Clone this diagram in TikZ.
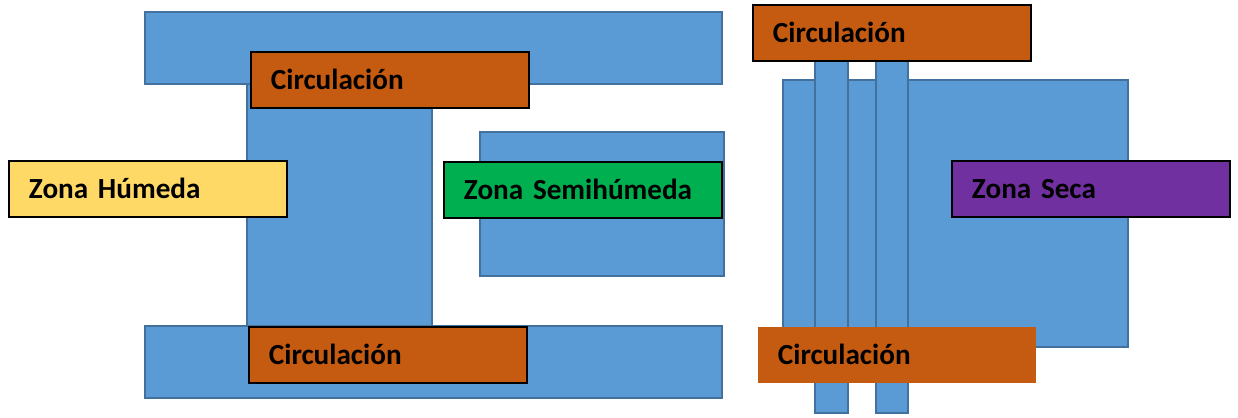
\documentclass[tikz,border=0pt]{standalone}
\usepackage{fontspec}
\setmainfont{Carlito}
\usepackage{xcolor}
\definecolor{zoneblue}{HTML}{5B9BD5}
\definecolor{zoneedge}{HTML}{41719C}
\definecolor{circorange}{HTML}{C55A11}
\definecolor{wetgold}{HTML}{FFD966}
\definecolor{semigreen}{HTML}{00B050}
\definecolor{drypurple}{HTML}{7030A0}
\newcommand\zonefont{\bfseries\fontsize{16.6}{20}\selectfont\hyphenpenalty=10000\relax}

\begin{document}
\begin{tikzpicture}[
  x=0.02cm, y=-0.02cm,
  block/.style={draw=zoneedge, fill=zoneblue, line width=0.85pt},
  zone/.style={draw=black, line width=1.1pt, anchor=north west, minimum height=1.12cm,
    inner xsep=0.4cm, inner ysep=0pt, text width=4.76cm, align=left,
    text height=11pt, text depth=0pt, font=\zonefont}
]
\useasboundingbox (0,0) rectangle (1238,417);

% left wing: two bars joined by a vertical block
\draw[block] (145,12) rectangle (722,84);
\draw[block] (145,326) rectangle (722,398);
\draw[block] (247,84) rectangle (432,326);
\draw[block] (480,132) rectangle (724,276);

\node[zone, fill=circorange] (circtop) at (250,51) {Circulación};
\node[zone, fill=circorange] (circbot) at (248,326) {Circulación};
\node[zone, fill=wetgold] (humeda) at (8,160) {Zona Húmeda};
\node[zone, fill=semigreen] (semi) at (443,161) {Zona Semihúmeda};

% right wing: dry block crossed by two strips
\draw[block] (783,80) rectangle (1128,347);
\draw[block] (815,50) rectangle (848,413);
\draw[block] (876,50) rectangle (908,413);

\node[zone, fill=circorange] (circtopr) at (752,4) {Circulación};
\node[zone, fill=circorange, draw=none] (circbotr) at (757,326) {Circulación};
\node[zone, fill=drypurple] (seca) at (951,160) {Zona Seca};
\end{tikzpicture}
\end{document}
